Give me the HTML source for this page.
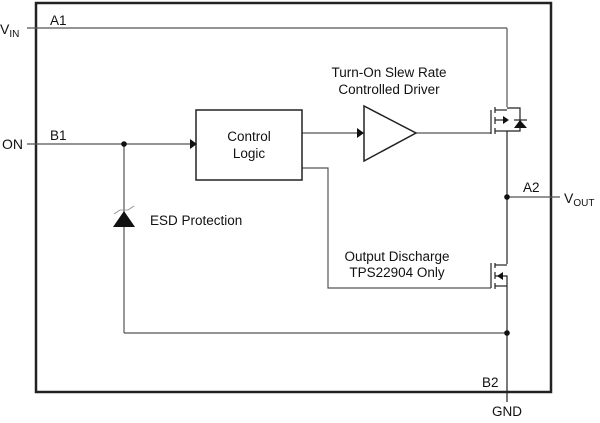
<!DOCTYPE html>
<html><head><style>body{margin:0;background:#fff}</style></head><body>
<svg width="600" height="418" xmlns="http://www.w3.org/2000/svg" font-family="Liberation Sans, sans-serif" font-size="13.5">
<rect x="36" y="3" width="515" height="389" fill="none" stroke="#222" stroke-width="2.5"/>
<g stroke="#555" stroke-width="1.2" fill="none">
<line x1="27" y1="28" x2="507" y2="28"/>
<line x1="507" y1="28" x2="507" y2="107"/>
<line x1="27" y1="144" x2="190" y2="144"/>
<line x1="302" y1="133" x2="358" y2="133"/>
<line x1="416" y1="133" x2="491" y2="133"/>
<polyline points="302,168 328,168 328,288 491,288"/>
<line x1="124" y1="144" x2="124" y2="333"/>
<line x1="124" y1="333" x2="507" y2="333"/>
<line x1="507" y1="197" x2="560" y2="197"/>
</g>
<g stroke="#222" stroke-width="1.2" fill="none">
<line x1="507" y1="131" x2="507" y2="264"/>
<line x1="507" y1="286" x2="507" y2="402"/>
<line x1="491" y1="110" x2="491" y2="134"/>
<line x1="495" y1="107" x2="495" y2="113"/><line x1="495" y1="117" x2="495" y2="124"/><line x1="495" y1="128" x2="495" y2="134"/>
<line x1="495" y1="110" x2="507" y2="110"/><line x1="495" y1="131" x2="507" y2="131"/>
<line x1="495" y1="120" x2="507" y2="120"/>
<polyline points="507,108 520,108 520,131 507,131"/>
<line x1="514" y1="120" x2="527" y2="120"/>
<line x1="491" y1="263" x2="491" y2="288"/>
<line x1="495" y1="263" x2="495" y2="268"/><line x1="495" y1="272" x2="495" y2="279"/><line x1="495" y1="283" x2="495" y2="289"/>
<line x1="495" y1="265" x2="507" y2="265"/><line x1="495" y1="286" x2="507" y2="286"/>
<polyline points="495,276 507,276 507,286"/>
<rect x="196" y="110" width="106" height="70" stroke-width="1.5"/>
<polygon points="364,106 364,161 416,133" stroke-width="1.5"/>
<polyline points="114,214 120,210 128,210 134,206" stroke="#888" stroke-width="0.8"/>
</g>
<g fill="#111">
<polygon points="190,139 197,144 190,149"/>
<polygon points="357,128 364,133 357,138"/>
<polygon points="503,116 509,120 503,124"/>
<polygon points="520,120 514,128 527,128"/>
<polygon points="497,276 503,272 503,280"/>
<polygon points="124,211 113,227 135,227"/>
<circle cx="124" cy="144" r="2.8"/><circle cx="507" cy="197" r="2.8"/><circle cx="507" cy="333" r="2.8"/>
</g>
<g fill="#111">
<text x="0" y="34" font-size="14">V<tspan font-size="10" dy="3">IN</tspan></text>
<text x="50" y="25">A1</text>
<text x="2" y="149" font-size="14">ON</text>
<text x="50" y="140">B1</text>
<text x="249" y="141" text-anchor="middle">Control</text>
<text x="249" y="158" text-anchor="middle">Logic</text>
<text x="389" y="77" text-anchor="middle">Turn-On Slew Rate</text>
<text x="389" y="94" text-anchor="middle">Controlled Driver</text>
<text x="150" y="225">ESD Protection</text>
<text x="397" y="261" text-anchor="middle">Output Discharge</text>
<text x="397" y="277" text-anchor="middle">TPS22904 Only</text>
<text x="523" y="192">A2</text>
<text x="564" y="203" font-size="14">V<tspan font-size="10" dy="3">OUT</tspan></text>
<text x="482" y="387">B2</text>
<text x="507" y="416" text-anchor="middle">GND</text>
</g>
</svg>
</body></html>
